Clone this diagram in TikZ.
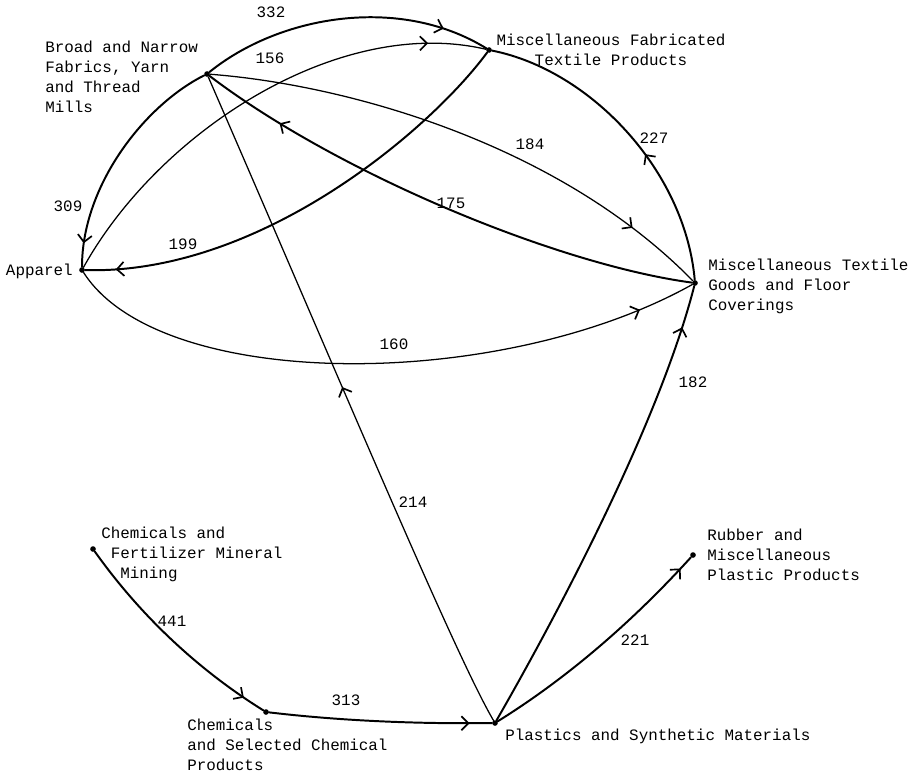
\documentclass[tikz,border=0pt]{standalone}
\usepackage{fontspec}
\setmainfont{Liberation Mono}
\usetikzlibrary{arrows.meta, decorations.markings}

\begin{document}
\begin{tikzpicture}[x=0.025cm, y=-0.025cm, >={Straight Barb[length=5pt,width=10pt]},
	line cap=round, line join=round, font=\fontsize{11.3}{14.2}\selectfont,
	dot/.style={circle, fill, inner sep=0pt, minimum size=4pt},
	sector/.style={inner sep=0pt, align=left},
	flowval/.style={inner sep=0pt},
	heavy/.style={line width=1.4pt},
	light/.style={line width=0.9pt},
	flow/.style={postaction={decorate},
		decoration={markings, mark=at position #1 with {\arrow[line width=1.2pt]{>}}}}]
\useasboundingbox (0,0) rectangle (914,776);
%========================
% Sectors
%========================
\node[dot] (broad) at (207,74) {};
\node[dot] (fab) at (489,50) {};
\node[dot] (app) at (82,270) {};
\node[dot] (tex) at (695,283) {};
\node[dot] (plas) at (495,723) {};
\node[dot] (rub) at (693,555) {};
\node[dot] (mine) at (93,549) {};
\node[dot] (chem) at (266,712) {};

\node[sector, anchor=north west] (broadtxt) at (45,41) {Broad and Narrow\\Fabrics, Yarn\\and Thread\\Mills};
\node[sector, align=center, anchor=north] (fabtxt) at (611,34) {Miscellaneous Fabricated\\Textile Products};
\node[sector, anchor=east] (apptxt) at (73,271) {Apparel};
\node[sector, anchor=north west] (textxt) at (708,259) {Miscellaneous Textile\\Goods and Floor\\Coverings};
\node[sector, anchor=north west] (plastxt) at (505,729) {Plastics and Synthetic Materials};
\node[sector, anchor=north west] (rubtxt) at (707,529) {Rubber and\\Miscellaneous\\Plastic Products};
\node[sector, anchor=north west] (minetxt) at (101,527) {Chemicals and\\\hspace*{0.6em}Fertilizer Mineral\\\hspace*{1.2em}Mining};
\node[sector, anchor=north west] (chemtxt) at (187,719) {Chemicals\\and Selected Chemical\\Products};

%========================
% Upper: textile flows
%========================
\draw[heavy, flow=0.84] (broad) .. controls (280,15) and (400,-5) .. (fab);
\draw[light, flow=0.88] (app) .. controls (160,130) and (340,15) .. (fab);
\draw[heavy, flow=0.935] (fab) .. controls (430,130) and (260,275) .. (app);
\draw[heavy, flow=0.9] (broad) .. controls (145,105) and (82,185) .. (app);
\draw[light, flow=0.85] (broad) .. controls (350,85) and (560,145) .. (tex);
\draw[heavy, flow=0.84] (tex) .. controls (560,265) and (340,175) .. (broad);
\draw[heavy, flow=0.42] (tex) .. controls (685,170) and (590,70) .. (fab);
\draw[light, flow=0.91] (app) .. controls (160,392) and (500,392) .. (tex);

%========================
% Lower: chemical and plastic flows
%========================
\draw[light, flow=0.52] (plas) .. controls (455,655) and (340,380) .. (broad);
\draw[heavy, flow=0.91] (plas) .. controls (560,610) and (660,420) .. (tex);
\draw[heavy, flow=0.94] (plas) .. controls (569,677) and (634,620) .. (rub);
\draw[heavy, flow=0.9] (mine) .. controls (140,615) and (197,669) .. (chem);
\draw[heavy, flow=0.9] (chem) .. controls (342,721) and (419,724) .. (plas);

% flow values
\node[flowval] (v332) at (271,12) {332};
\node[flowval] (v156) at (270,58) {156};
\node[flowval] (v309) at (68,206) {309};
\node[flowval] (v199) at (183,244) {199};
\node[flowval] (v184) at (530,144) {184};
\node[flowval] (v175) at (451,203) {175};
\node[flowval] (v227) at (654,138) {227};
\node[flowval] (v160) at (394,344) {160};
\node[flowval] (v214) at (413,502) {214};
\node[flowval] (v182) at (693,382) {182};
\node[flowval] (v221) at (635,640) {221};
\node[flowval] (v441) at (172,621) {441};
\node[flowval] (v313) at (346,700) {313};
\end{tikzpicture}
\end{document}
